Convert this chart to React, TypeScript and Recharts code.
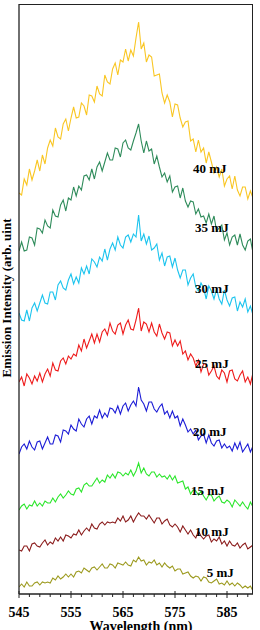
import { LineChart, Line, XAxis, YAxis, ReferenceDot } from 'recharts';

// wavelength grid, nm
const wavelength = [
  545, 545.5, 546, 546.5, 547, 547.5, 548, 548.5, 549, 549.5,
  550, 550.5, 551, 551.5, 552, 552.5, 553, 553.5, 554, 554.5,
  555, 555.5, 556, 556.5, 557, 557.5, 558, 558.5, 559, 559.5,
  560, 560.5, 561, 561.5, 562, 562.5, 563, 563.5, 564, 564.5,
  565, 565.5, 566, 566.5, 567, 567.5, 568, 568.5, 569, 569.5,
  570, 570.5, 571, 571.5, 572, 572.5, 573, 573.5, 574, 574.5,
  575, 575.5, 576, 576.5, 577, 577.5, 578, 578.5, 579, 579.5,
  580, 580.5, 581, 581.5, 582, 582.5, 583, 583.5, 584, 584.5,
  585, 585.5, 586, 586.5, 587, 587.5, 588, 588.5, 589, 589.5,
  590,
];

// emission spectra (stacked, arb. units) per pump energy
const e40 = [
  401, 399, 415, 409, 425, 414, 423, 434, 423, 439,
  430, 446, 454, 448, 466, 457, 455, 470, 475, 463,
  476, 487, 476, 477, 491, 488, 479, 499, 498, 492,
  508, 500, 498, 519, 512, 510, 525, 531, 519, 534,
  532, 545, 533, 544, 538, 556, 572, 545, 551, 532,
  539, 537, 518, 519, 520, 501, 491, 499, 492, 477,
  490, 489, 476, 467, 472, 473, 453, 455, 442, 454,
  442, 446, 431, 442, 432, 421, 427, 417, 425, 408,
  415, 418, 405, 418, 404, 398, 407, 407, 395, 403,
  396,
];
const e35 = [
  343, 352, 343, 344, 357, 356, 349, 366, 365, 361,
  374, 368, 366, 384, 378, 377, 389, 394, 383, 396,
  394, 407, 398, 408, 404, 418, 419, 414, 425, 415,
  427, 432, 423, 432, 441, 434, 434, 446, 445, 437,
  451, 454, 446, 444, 453, 461, 470, 453, 441, 453,
  443, 445, 430, 438, 427, 417, 421, 412, 418, 402,
  407, 408, 396, 406, 393, 387, 393, 392, 380, 385,
  377, 378, 371, 380, 370, 378, 363, 366, 369, 354,
  361, 349, 357, 359, 349, 360, 349, 344, 353, 355,
  341,
];
const e30 = [
  281, 274, 273, 284, 273, 286, 291, 283, 291, 299,
  291, 290, 302, 302, 294, 309, 313, 306, 304, 314,
  320, 310, 317, 311, 326, 320, 328, 320, 335, 332,
  327, 337, 333, 345, 334, 345, 351, 344, 357, 349,
  346, 357, 359, 352, 360, 357, 379, 353, 360, 350,
  358, 344, 346, 350, 334, 341, 328, 337, 338, 327,
  336, 324, 316, 324, 324, 309, 316, 320, 307, 303,
  311, 306, 295, 308, 303, 295, 305, 295, 290, 304,
  294, 288, 296, 297, 283, 292, 287, 295, 282, 288,
  279,
];
const e25 = [
  212, 217, 208, 220, 216, 210, 218, 213, 221, 212,
  220, 225, 218, 231, 224, 223, 233, 236, 230, 238,
  235, 240, 238, 249, 243, 255, 246, 253, 260, 251,
  260, 252, 262, 265, 259, 271, 263, 260, 269, 271,
  260, 269, 274, 265, 264, 274, 286, 263, 272, 270,
  262, 271, 262, 258, 270, 261, 255, 262, 261, 248,
  254, 248, 253, 240, 243, 234, 240, 236, 228, 234,
  222, 230, 230, 219, 223, 228, 218, 215, 224, 221,
  212, 223, 224, 215, 213, 219, 223, 212, 217, 210,
  221,
];
const e20 = [
  140, 147, 150, 145, 153, 147, 144, 152, 153, 145,
  151, 157, 150, 150, 159, 158, 152, 164, 163, 160,
  169, 165, 163, 175, 170, 167, 175, 178, 170, 178,
  176, 184, 176, 181, 177, 186, 185, 181, 188, 180,
  188, 191, 183, 189, 193, 188, 207, 194, 190, 183,
  192, 192, 185, 182, 187, 190, 180, 183, 176, 183,
  176, 178, 168, 175, 169, 162, 165, 160, 164, 154,
  158, 160, 151, 159, 151, 148, 153, 154, 146, 150,
  146, 148, 143, 151, 145, 152, 142, 146, 150, 142,
  148,
];
const e15 = [
  84, 88, 90, 85, 89, 88, 93, 88, 91, 88,
  93, 91, 91, 96, 92, 97, 100, 96, 99, 103,
  100, 99, 105, 106, 102, 109, 111, 108, 108, 112,
  116, 111, 114, 112, 119, 116, 120, 116, 122, 121,
  118, 121, 119, 124, 118, 123, 131, 121, 126, 120,
  118, 122, 122, 117, 120, 117, 118, 115, 119, 114,
  118, 111, 112, 113, 105, 107, 100, 104, 103, 99,
  103, 98, 94, 99, 99, 93, 96, 98, 92, 91,
  94, 92, 87, 94, 91, 88, 92, 88, 85, 92,
  87,
];
const e10 = [
  44, 43, 48, 48, 43, 50, 51, 48, 47, 51,
  54, 49, 52, 50, 56, 53, 57, 53, 59, 58,
  56, 60, 59, 64, 59, 63, 66, 63, 70, 66,
  65, 70, 72, 69, 72, 71, 72, 71, 76, 73,
  78, 72, 74, 78, 72, 77, 81, 78, 78, 75,
  79, 75, 71, 76, 76, 70, 73, 75, 69, 67,
  70, 67, 62, 68, 64, 60, 64, 59, 56, 63,
  58, 55, 58, 59, 52, 55, 53, 57, 50, 53,
  48, 53, 49, 48, 51, 46, 49, 51, 45, 47,
  49,
];
const e5 = [
  7, 10, 7, 12, 8, 8, 11, 12, 9, 12,
  11, 12, 11, 16, 14, 18, 15, 17, 20, 17,
  20, 17, 22, 23, 21, 26, 24, 22, 26, 27,
  24, 27, 30, 26, 26, 30, 29, 26, 31, 30,
  29, 32, 29, 28, 34, 32, 37, 33, 34, 29,
  32, 31, 34, 29, 31, 27, 31, 28, 26, 28,
  23, 25, 25, 20, 21, 22, 18, 16, 18, 17,
  13, 17, 16, 12, 11, 13, 15, 10, 11, 9,
  13, 9, 11, 8, 11, 9, 6, 8, 6, 8,
  3,
];

const energies = ['40 mJ', '35 mJ', '30 mJ', '25 mJ', '20 mJ', '15 mJ', '10 mJ', '5 mJ'];
const spectra = [e40, e35, e30, e25, e20, e15, e10, e5];
const colors = ['#F9C623', '#2E8B5A', '#1CC4EE', '#EE1C1C', '#1C1CD6', '#2BE62B', '#8B1C1C', '#9C9A1E'];

// where each energy tag sits (wavelength, intensity)
const tagWl = [581.7, 582.1, 582.1, 582.1, 581.7, 581.3, 582.1, 583.7];
const tagLevel = [426, 367, 306, 231, 163, 104, 63, 22];

const wlDomain = [545, 590];
const levelDomain = [0, 590];

const majorTicks = [545, 555, 565, 575, 585];
const allTicks = [
  545, 547, 549, 551, 553, 555, 557, 559, 561, 563, 565, 567,
  569, 571, 573, 575, 577, 579, 581, 583, 585, 587, 589,
];

const chartData = wavelength.map((wl, i) => {
  const row: Record<string, number> = { wl };
  spectra.forEach((s, k) => {
    row['s' + k] = s[i];
  });
  return row;
});

const FONT = '"Liberation Serif", "Times New Roman", serif';
const AXIS = '#222';

// chart geometry
const W = 260;
const H = 630;
const MARGIN = { top: 4, right: 7, bottom: 0, left: 0 };
const Y_AXIS_W = 19;
const X_AXIS_H = 36;

function WlTick(props: any) {
  const { x, y, payload } = props;
  const major = majorTicks.includes(payload.value);
  return (
    <g>
      <line x1={x} x2={x} y1={major ? y - 3 : y} y2={y + (major ? 4 : 3)} stroke={AXIS} strokeWidth={1} />
      {major && (
        <text x={x} y={y + 23} textAnchor="middle" fontFamily={FONT} fontWeight="bold" fontSize={14} fill="#000">
          {payload.value}
        </text>
      )}
    </g>
  );
}

export default function App() {
  return (
    <div style={{ position: 'absolute', left: 0, top: 0, width: W, height: H }}>
      <LineChart width={W} height={H} data={chartData} margin={MARGIN}>
        <XAxis
          dataKey="wl"
          type="number"
          domain={wlDomain}
          allowDataOverflow
          ticks={allTicks}
          interval={0}
          tickSize={0}
          tickMargin={0}
          tickLine={false}
          tick={<WlTick />}
          height={X_AXIS_H}
          axisLine={{ stroke: AXIS, strokeWidth: 1.3 }}
          label={{
            content: () => (
              <text x={141} y={631} textAnchor="middle" fontFamily={FONT} fontWeight="bold" fontSize={14} fill="#000">
                Wavelength (nm)
              </text>
            ),
          }}
        />
        <YAxis
          type="number"
          domain={levelDomain}
          allowDataOverflow
          width={Y_AXIS_W}
          tick={false}
          tickLine={false}
          axisLine={{ stroke: AXIS, strokeWidth: 1.3 }}
          label={{
            content: () => (
              <text
                x={6}
                y={298}
                transform="rotate(-90 6 298)"
                textAnchor="middle"
                dominantBaseline="central"
                fontFamily={FONT}
                fontWeight="bold"
                fontSize={13}
                fill="#000"
              >
                Emission Intensity (arb. uint
              </text>
            ),
          }}
        />
        {spectra.map((_, k) => (
          <Line
            key={energies[k]}
            type="linear"
            dataKey={'s' + k}
            name={energies[k]}
            stroke={colors[k]}
            strokeWidth={1.1}
            dot={false}
            isAnimationActive={false}
          />
        ))}
        {energies.map((name, k) => (
          <ReferenceDot
            key={'tag' + name}
            x={tagWl[k]}
            y={tagLevel[k]}
            r={0}
            shape={(p: any) => (
              <text
                x={p.cx}
                y={p.cy}
                textAnchor="middle"
                dominantBaseline="central"
                fontFamily={FONT}
                fontWeight="bold"
                fontSize={13}
                fill="#000"
              >
                {name}
              </text>
            )}
          />
        ))}
      </LineChart>
      {/* top and right edges of the plot box */}
      <div
        style={{
          position: 'absolute',
          pointerEvents: 'none',
          left: MARGIN.left + Y_AXIS_W,
          top: MARGIN.top - 0.5,
          width: W - MARGIN.left - MARGIN.right - Y_AXIS_W,
          height: H - MARGIN.top - MARGIN.bottom - X_AXIS_H,
          borderTop: `1.3px solid ${AXIS}`,
          borderRight: `1.3px solid ${AXIS}`,
          boxSizing: 'border-box',
        }}
      />
    </div>
  );
}
